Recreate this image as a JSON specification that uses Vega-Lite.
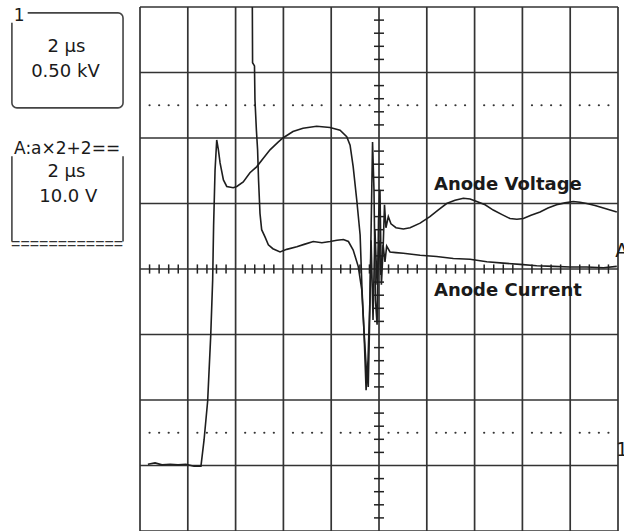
{
  "$schema": "https://vega.github.io/schema/vega-lite/v6.json",
  "width": 624,
  "height": 531,
  "autosize": {"type": "none"},
  "padding": 0,
  "background": "white",
  "config": {"view": {"stroke": null}},
  "datasets": {
    "vgrid": [{"t":0},{"t":2},{"t":4},{"t":6},{"t":8},{"t":10},{"t":12},{"t":14},{"t":16},{"t":18},{"t":20}],
    "hgrid": [{"y":-4},{"y":-3},{"y":-2},{"y":-1},{"y":0},{"y":1},{"y":2},{"y":3},{"y":4}],
    "xticks": [{"t":0.4},{"t":0.8},{"t":1.2},{"t":1.6},{"t":2.4},{"t":2.8},{"t":3.2},{"t":3.6},{"t":4.4},{"t":4.8},{"t":5.2},{"t":5.6},{"t":6.4},{"t":6.8},{"t":7.2},{"t":7.6},{"t":8.4},{"t":8.8},{"t":9.2},{"t":9.6},{"t":10.4},{"t":10.8},{"t":11.2},{"t":11.6},{"t":12.4},{"t":12.8},{"t":13.2},{"t":13.6},{"t":14.4},{"t":14.8},{"t":15.2},{"t":15.6},{"t":16.4},{"t":16.8},{"t":17.2},{"t":17.6},{"t":18.4},{"t":18.8},{"t":19.2},{"t":19.6}],
    "yticks": [{"y":-3.8},{"y":-3.6},{"y":-3.4},{"y":-3.2},{"y":-2.8},{"y":-2.6},{"y":-2.4},{"y":-2.2},{"y":-1.8},{"y":-1.6},{"y":-1.4},{"y":-1.2},{"y":-0.8},{"y":-0.6},{"y":-0.4},{"y":-0.2},{"y":0.2},{"y":0.4},{"y":0.6},{"y":0.8},{"y":1.2},{"y":1.4},{"y":1.6},{"y":1.8},{"y":2.2},{"y":2.4},{"y":2.6},{"y":2.8},{"y":3.2},{"y":3.4},{"y":3.6},{"y":3.8}],
    "voltage": [
      {"t":0.33,"v":-2.98},{"t":0.63,"v":-2.96},{"t":0.92,"v":-2.99},{"t":1.26,"v":-2.98},{"t":1.59,"v":-2.99},{"t":1.92,"v":-2.98},{"t":2.26,"v":-3.01},{"t":2.55,"v":-3.01},
      {"t":2.68,"v":-2.61},{"t":2.83,"v":-2.02},{"t":2.96,"v":-1.01},{"t":3.04,"v":-0.17},{"t":3.08,"v":0.67},{"t":3.14,"v":1.51},{"t":3.21,"v":1.97},{"t":3.28,"v":1.82},
      {"t":3.35,"v":1.62},{"t":3.49,"v":1.36},{"t":3.63,"v":1.26},{"t":3.90,"v":1.24},{"t":4.05,"v":1.26},{"t":4.32,"v":1.33},{"t":4.60,"v":1.47},{"t":4.88,"v":1.56},
      {"t":5.16,"v":1.69},{"t":5.44,"v":1.82},{"t":5.79,"v":1.94},{"t":5.98,"v":2.0},{"t":6.40,"v":2.10},{"t":6.82,"v":2.15},{"t":7.39,"v":2.18},{"t":7.95,"v":2.16},
      {"t":8.37,"v":2.12},{"t":8.65,"v":2.02},{"t":8.79,"v":1.89},{"t":8.92,"v":1.56},{"t":9.07,"v":1.05},{"t":9.21,"v":0.52},{"t":9.29,"v":-0.32},{"t":9.37,"v":-0.93},
      {"t":9.46,"v":-1.85},{"t":9.54,"v":-1.39},{"t":9.62,"v":-0.47},{"t":9.69,"v":1.05},{"t":9.73,"v":1.94},{"t":9.79,"v":1.21},{"t":9.85,"v":-0.47},{"t":9.92,"v":-0.85},
      {"t":9.98,"v":0.75},{"t":10.04,"v":1.21},{"t":10.10,"v":-0.24},{"t":10.17,"v":0.29},{"t":10.23,"v":0.98},{"t":10.29,"v":0.63},{"t":10.39,"v":0.80},{"t":10.50,"v":0.69},
      {"t":10.71,"v":0.63},{"t":11.02,"v":0.61},{"t":11.30,"v":0.63},{"t":11.72,"v":0.70},{"t":12.13,"v":0.80},{"t":12.47,"v":0.90},{"t":12.83,"v":1.00},{"t":13.18,"v":1.05},
      {"t":13.53,"v":1.08},{"t":13.81,"v":1.07},{"t":14.09,"v":1.03},{"t":14.44,"v":0.98},{"t":14.78,"v":0.90},{"t":15.15,"v":0.83},{"t":15.48,"v":0.77},{"t":15.77,"v":0.76},
      {"t":16.04,"v":0.77},{"t":16.36,"v":0.82},{"t":16.74,"v":0.87},{"t":17.07,"v":0.93},{"t":17.43,"v":0.98},{"t":17.78,"v":1.01},{"t":18.13,"v":1.03},{"t":18.41,"v":1.02},
      {"t":18.69,"v":1.00},{"t":19.04,"v":0.97},{"t":19.39,"v":0.93},{"t":19.67,"v":0.90},{"t":19.95,"v":0.87}
    ],
    "current": [
      {"t":4.70,"v":4.0},{"t":4.71,"v":3.15},{"t":4.79,"v":3.10},{"t":4.81,"v":2.58},{"t":4.87,"v":2.12},{"t":4.92,"v":1.82},{"t":4.96,"v":1.36},{"t":5.02,"v":0.85},
      {"t":5.09,"v":0.60},{"t":5.23,"v":0.49},{"t":5.37,"v":0.37},{"t":5.56,"v":0.31},{"t":5.86,"v":0.26},{"t":6.14,"v":0.30},{"t":6.56,"v":0.34},{"t":6.90,"v":0.38},
      {"t":7.25,"v":0.42},{"t":7.61,"v":0.40},{"t":7.95,"v":0.42},{"t":8.24,"v":0.44},{"t":8.51,"v":0.45},{"t":8.72,"v":0.42},{"t":8.92,"v":0.29},{"t":9.13,"v":0.04},
      {"t":9.28,"v":-0.32},{"t":9.37,"v":-0.93},{"t":9.46,"v":-1.47},{"t":9.55,"v":-1.80},{"t":9.60,"v":-0.93},{"t":9.67,"v":0.44},{"t":9.75,"v":-0.78},{"t":9.83,"v":0.60},
      {"t":9.92,"v":-0.24},{"t":10.00,"v":0.44},{"t":10.08,"v":-0.09},{"t":10.17,"v":0.37},{"t":10.25,"v":0.11},{"t":10.32,"v":0.35},{"t":10.46,"v":0.26},{"t":10.71,"v":0.25},
      {"t":11.02,"v":0.24},{"t":11.72,"v":0.21},{"t":12.41,"v":0.19},{"t":13.11,"v":0.16},{"t":13.81,"v":0.15},{"t":14.51,"v":0.11},{"t":15.20,"v":0.09},{"t":15.90,"v":0.07},
      {"t":16.60,"v":0.05},{"t":17.29,"v":0.04},{"t":17.99,"v":0.03},{"t":18.69,"v":0.03},{"t":19.39,"v":0.02},{"t":19.95,"v":0.04}
    ],
    "boxes": [{"t1":-5.36,"t2":-0.71,"y1":3.91,"y2":2.46}],
    "masks": [{"t1":-5.42,"t2":-4.70,"y1":3.99,"y2":3.76}],
    "sides": [{"t":-5.36,"y1":1.72,"y2":0.42},{"t":-0.71,"y1":1.72,"y2":0.42}],
    "boxtext": [
      {"t":-3.08,"y":3.39,"label":"2 µs"},
      {"t":-3.12,"y":3.01,"label":"0.50 kV"},
      {"t":-3.08,"y":1.48,"label":"2 µs"},
      {"t":-3.0,"y":1.10,"label":"10.0 V"}
    ],
    "headtext": [
      {"t":-5.06,"y":3.87,"label":"1"},
      {"t":-3.05,"y":1.83,"label":"A:a×2+2=="}
    ],
    "dashtext": [
      {"t":-3.05,"y":0.38,"label":"============"}
    ],
    "refmarks": [
      {"t":19.88,"y":0.28,"label":"A"},
      {"t":19.92,"y":-2.76,"label":"1"}
    ],
    "tracelabels": [
      {"t":12.30,"y":1.28,"label":"Anode Voltage"},
      {"t":12.30,"y":-0.33,"label":"Anode Current"}
    ]
  },
  "layer": [
    {
      "data": {"name": "vgrid"},
      "mark": {"type": "rule", "stroke": "#333", "strokeWidth": 1.7},
      "encoding": {
        "x": {"field": "t", "type": "quantitative", "scale": {"domain": [-5.858, 20.251], "nice": false, "zero": false}, "axis": null},
        "y": {"datum": -4, "type": "quantitative", "scale": {"domain": [-4, 4.107], "nice": false, "zero": false}, "axis": null},
        "y2": {"datum": 4}
      }
    },
    {
      "data": {"name": "hgrid"},
      "mark": {"type": "rule", "stroke": "#333", "strokeWidth": 1.7},
      "encoding": {
        "y": {"field": "y", "type": "quantitative"},
        "x": {"datum": 0, "type": "quantitative"},
        "x2": {"datum": 20}
      }
    },
    {
      "data": {"name": "xticks"},
      "mark": {"type": "rule", "stroke": "#222", "strokeWidth": 1.5},
      "encoding": {
        "x": {"field": "t", "type": "quantitative"},
        "y": {"datum": -0.07, "type": "quantitative"},
        "y2": {"datum": 0.07}
      }
    },
    {
      "data": {"name": "yticks"},
      "mark": {"type": "rule", "stroke": "#222", "strokeWidth": 1.5},
      "encoding": {
        "y": {"field": "y", "type": "quantitative"},
        "x": {"datum": 9.79, "type": "quantitative"},
        "x2": {"datum": 10.21}
      }
    },
    {
      "data": {"name": "xticks"},
      "mark": {"type": "circle", "color": "#333", "size": 5, "opacity": 1},
      "encoding": {
        "x": {"field": "t", "type": "quantitative"},
        "y": {"datum": 2.5, "type": "quantitative"}
      }
    },
    {
      "data": {"name": "xticks"},
      "mark": {"type": "circle", "color": "#333", "size": 5, "opacity": 1},
      "encoding": {
        "x": {"field": "t", "type": "quantitative"},
        "y": {"datum": -2.5, "type": "quantitative"}
      }
    },
    {
      "data": {"name": "voltage"},
      "mark": {"type": "line", "stroke": "#1e1e1e", "strokeWidth": 1.6},
      "encoding": {
        "x": {"field": "t", "type": "quantitative"},
        "y": {"field": "v", "type": "quantitative"}
      }
    },
    {
      "data": {"name": "current"},
      "mark": {"type": "line", "stroke": "#1e1e1e", "strokeWidth": 1.6},
      "encoding": {
        "x": {"field": "t", "type": "quantitative"},
        "y": {"field": "v", "type": "quantitative"}
      }
    },
    {
      "data": {"name": "tracelabels"},
      "mark": {"type": "text", "align": "left", "baseline": "middle", "font": "DejaVu Sans", "fontWeight": "bold", "fontSize": 18, "color": "#1a1a1a"},
      "encoding": {
        "x": {"field": "t", "type": "quantitative"},
        "y": {"field": "y", "type": "quantitative"},
        "text": {"field": "label"}
      }
    },
    {
      "data": {"name": "boxes"},
      "mark": {"type": "rect", "fill": "white", "stroke": "#444", "strokeWidth": 1.6, "cornerRadius": 5},
      "encoding": {
        "x": {"field": "t1", "type": "quantitative"},
        "x2": {"field": "t2"},
        "y": {"field": "y1", "type": "quantitative"},
        "y2": {"field": "y2"}
      }
    },
    {
      "data": {"name": "masks"},
      "mark": {"type": "rect", "fill": "white", "stroke": null},
      "encoding": {
        "x": {"field": "t1", "type": "quantitative"},
        "x2": {"field": "t2"},
        "y": {"field": "y1", "type": "quantitative"},
        "y2": {"field": "y2"}
      }
    },
    {
      "data": {"name": "sides"},
      "mark": {"type": "rule", "stroke": "#444", "strokeWidth": 1.6},
      "encoding": {
        "x": {"field": "t", "type": "quantitative"},
        "y": {"field": "y1", "type": "quantitative"},
        "y2": {"field": "y2"}
      }
    },
    {
      "data": {"name": "boxtext"},
      "mark": {"type": "text", "align": "center", "baseline": "middle", "font": "DejaVu Sans", "fontSize": 18, "color": "#1a1a1a"},
      "encoding": {
        "x": {"field": "t", "type": "quantitative"},
        "y": {"field": "y", "type": "quantitative"},
        "text": {"field": "label"}
      }
    },
    {
      "data": {"name": "headtext"},
      "mark": {"type": "text", "align": "center", "baseline": "middle", "font": "DejaVu Sans", "fontSize": 17, "color": "#1a1a1a"},
      "encoding": {
        "x": {"field": "t", "type": "quantitative"},
        "y": {"field": "y", "type": "quantitative"},
        "text": {"field": "label"}
      }
    },
    {
      "data": {"name": "dashtext"},
      "mark": {"type": "text", "align": "center", "baseline": "middle", "font": "Liberation Sans", "fontSize": 16, "color": "#333"},
      "encoding": {
        "x": {"field": "t", "type": "quantitative"},
        "y": {"field": "y", "type": "quantitative"},
        "text": {"field": "label"}
      }
    },
    {
      "data": {"name": "refmarks"},
      "mark": {"type": "text", "align": "left", "baseline": "middle", "font": "DejaVu Sans", "fontSize": 19, "color": "#1a1a1a"},
      "encoding": {
        "x": {"field": "t", "type": "quantitative"},
        "y": {"field": "y", "type": "quantitative"},
        "text": {"field": "label"}
      }
    }
  ]
}
